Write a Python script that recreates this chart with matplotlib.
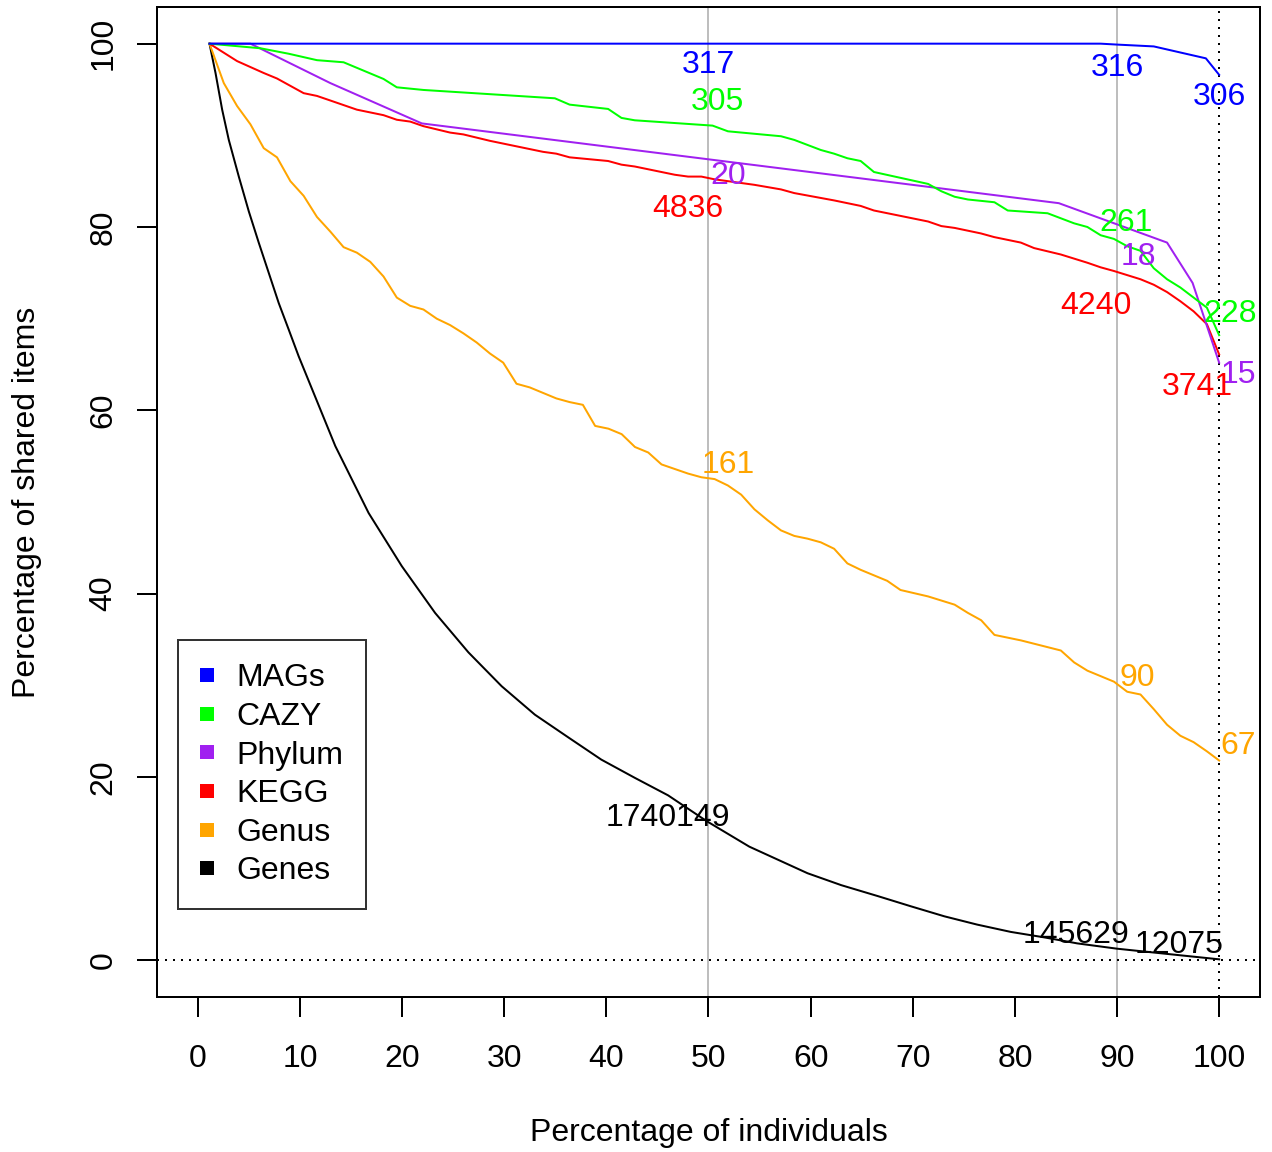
import matplotlib
matplotlib.use("Agg")
import matplotlib.pyplot as plt
from matplotlib.lines import Line2D

plt.rcParams['font.family'] = ['Liberation Sans', 'DejaVu Sans']

# curves (x = % of individuals, y = % of shared items)
mags_x = [1.14, 88.4, 90.0, 93.6, 98.7, 100]
mags_y = [100, 100, 99.9, 99.7, 98.4, 96.6]

cazy_x = [1.14, 6.12, 8.9, 11.66, 14.27, 18.18, 19.48, 22.09, 34.96, 36.4, 40.17,
          41.48, 42.78, 50.4, 51.9, 57.1, 58.4, 61.0, 62.3, 63.6, 64.9, 66.2, 71.5,
          72.8, 74.1, 75.4, 78.0, 79.3, 83.2, 85.8, 87.1, 88.4, 89.7, 91.0, 92.3,
          93.6, 94.9, 96.2, 97.5, 98.8, 100]
cazy_y = [100, 99.5, 98.9, 98.2, 97.97, 96.15, 95.24, 94.95, 94.04, 93.35, 92.88,
          91.9, 91.64, 91.06, 90.44, 89.9, 89.5, 88.4, 88.0, 87.5, 87.2, 86.0, 84.7,
          83.9, 83.3, 83.0, 82.7, 81.8, 81.5, 80.4, 80.0, 79.1, 78.7, 77.9, 77.4,
          75.5, 74.3, 73.4, 72.3, 71.2, 68.2]

phylum_x = [1.14, 5.15, 12.97, 21.93, 84.3, 94.9, 97.4, 100]
phylum_y = [100, 100, 95.7, 91.3, 82.6, 78.3, 73.9, 65.2]

kegg_x = [1.14, 3.84, 6.45, 7.75, 10.36, 11.66, 12.97, 15.57, 18.18, 19.48, 20.79,
          22.09, 24.7, 26.0, 28.6, 29.9, 33.8, 35.1, 36.4, 40.17, 41.48, 42.78, 46.7,
          48.0, 49.3, 50.6, 53.2, 54.5, 57.1, 58.4, 62.3, 63.6, 64.9, 66.2, 71.5,
          72.8, 74.1, 76.67, 77.97, 80.58, 81.88, 84.5, 87.1, 88.4, 89.7, 92.3, 93.6,
          94.9, 96.2, 97.5, 98.8, 100]
kegg_y = [100, 98.1, 96.8, 96.2, 94.6, 94.3, 93.8, 92.8, 92.2, 91.7, 91.5,
          91.0, 90.3, 90.1, 89.4, 89.1, 88.2, 88.0, 87.6, 87.2, 86.8, 86.6, 85.7,
          85.5, 85.5, 85.2, 84.8, 84.6, 84.1, 83.7, 82.9, 82.6, 82.3, 81.8, 80.6,
          80.1, 79.9, 79.3, 78.9, 78.3, 77.7, 77.0, 76.1, 75.6, 75.2, 74.3, 73.7,
          72.9, 71.9, 70.8, 69.4, 66.1]

genus_x = [1.14, 2.54, 3.84, 5.15, 6.45, 7.75, 9.06, 10.36, 11.66, 12.97, 14.27,
           15.57, 16.88, 18.18, 19.48, 20.79, 22.09, 23.39, 24.7, 26.0, 27.3, 28.6,
           29.9, 31.2, 32.5, 33.8, 35.1, 36.4, 37.7, 38.9, 40.2, 41.5, 42.8, 44.1,
           45.4, 46.7, 48.0, 49.3, 50.6, 51.9, 53.2, 54.5, 55.8, 57.1, 58.4, 59.7,
           61.0, 62.3, 63.6, 64.9, 66.2, 67.5, 68.8, 71.5, 74.1, 75.4, 76.7, 78.0,
           80.6, 84.5, 85.8, 87.1, 88.4, 89.7, 91.0, 92.3, 93.6, 94.9, 96.2, 97.5,
           98.8, 100]
genus_y = [100, 95.7, 93.2, 91.2, 88.6, 87.6, 85.0, 83.4, 81.1, 79.5, 77.8,
           77.2, 76.2, 74.6, 72.3, 71.4, 71.0, 70.0, 69.3, 68.4, 67.4, 66.2,
           65.2, 62.9, 62.5, 61.9, 61.3, 60.9, 60.6, 58.3, 58.0, 57.4, 56.0, 55.4,
           54.1, 53.6, 53.1, 52.7, 52.5, 51.8, 50.8, 49.2, 48.0, 46.9, 46.3, 46.0,
           45.6, 44.9, 43.3, 42.6, 42.0, 41.4, 40.4, 39.7, 38.8, 37.9, 37.1, 35.5,
           34.9, 33.8, 32.5, 31.6, 31.0, 30.4, 29.3, 29.0, 27.4, 25.7, 24.5, 23.8,
           22.8, 21.8]

genes_x = [1.14, 1.73, 2.38, 3.03, 4.01, 4.99, 5.96, 6.94, 7.92, 8.9, 9.87,
           13.46, 16.72, 19.97, 23.23, 26.49, 29.75, 33.0, 36.3, 39.5, 42.8, 46.04,
           49.8, 54.0, 59.7, 63.0, 66.6, 69.8, 73.1, 76.3, 79.6, 82.9, 86.1, 90.0,
           94.3, 100]
genes_y = [100, 96.8, 92.8, 89.5, 85.5, 81.7, 78.3, 75.0, 71.7, 68.8, 65.9,
           56.1, 48.8, 43.0, 37.9, 33.6, 29.9, 26.8, 24.3, 21.9, 19.9, 18.0,
           15.2, 12.4, 9.5, 8.2, 7.0, 5.9, 4.8, 3.9, 3.1, 2.5, 1.85, 1.27,
           0.77, 0.11]

# item counts written at 50%, 90% and 100% of individuals
mags_counts = ['317', '316', '306']
cazy_counts = ['305', '261', '228']
phylum_counts = ['20', '18', '15']
kegg_counts = ['4836', '4240', '3741']
genus_counts = ['161', '90', '67']
genes_counts = ['1740149', '145629', '12075']

names = ['MAGs', 'CAZY', 'Phylum', 'KEGG', 'Genus', 'Genes']
colors = ['#0000FF', '#00FF00', '#A020F0', '#FF0000', '#FFA500', '#000000']

series = [(mags_x, mags_y, mags_counts),
          (cazy_x, cazy_y, cazy_counts),
          (phylum_x, phylum_y, phylum_counts),
          (kegg_x, kegg_y, kegg_counts),
          (genus_x, genus_y, genus_counts),
          (genes_x, genes_y, genes_counts)]

# where each count label sits (text centre, data units)
label_pos = [[(50.0, 98.0), (90.0, 97.7), (100.0, 94.5)],
             [(50.9, 94.0), (90.9, 80.8), (101.1, 70.9)],
             [(51.9, 85.9), (92.1, 77.1), (101.9, 64.2)],
             [(48.0, 82.3), (87.9, 71.8), (97.9, 62.9)],
             [(51.9, 54.4), (92.0, 31.2), (101.9, 23.7)],
             [(46.0, 15.9), (86.0, 3.1), (96.1, 2.0)]]

FS = 23
LW = 1.44

fig = plt.figure(figsize=(12.72, 11.52), dpi=100)
ax = fig.add_axes([157 / 1272, 1 - 997 / 1152, 1103 / 1272, 990 / 1152])
ax.set_xlim(-4, 104)
ax.set_ylim(-4, 104)

ax.axvline(50, color='#BEBEBE', lw=LW, zorder=1)
ax.axvline(90, color='#BEBEBE', lw=LW, zorder=1)
ax.axvline(100, color='black', lw=LW, ls=(0, (1, 3)), zorder=1)
ax.axhline(0, color='black', lw=LW, ls=(0, (1, 3)), zorder=1)

for (x, y, counts), c in reversed(list(zip(series, colors))):
    ax.plot(x, y, color=c, lw=LW, zorder=2)

for (x, y, counts), c, pos in zip(series, colors, label_pos):
    for txt, (px, py) in zip(counts, pos):
        ax.annotate(txt, (px, py), xytext=(0, -8.2), textcoords='offset points',
                    ha='center', va='baseline', fontsize=FS, color=c, zorder=3)

ax.set_xticks(range(0, 101, 10))
ax.set_yticks(range(0, 101, 20))
ax.tick_params(direction='out', length=14.4, width=LW, labelsize=FS)
ax.tick_params(axis='x', pad=19.2)
ax.tick_params(axis='y', pad=13.4, labelrotation=90)
for lab in ax.get_yticklabels():
    lab.set_va('center')
for s in ax.spines.values():
    s.set_linewidth(LW)

fig.text(708.5 / 1272, 1 - 1133 / 1152, 'Percentage of individuals',
         ha='center', va='center', fontsize=FS)
fig.text(27 / 1272, 1 - 502 / 1152, 'Percentage of shared items',
         ha='center', va='center', rotation=90, fontsize=FS)

handles = [Line2D([], [], ls='none', marker='s', markersize=10.4,
                  markerfacecolor=c, markeredgewidth=0) for c in colors]
leg = ax.legend(handles, names, loc='upper left',
                bbox_to_anchor=(20.6 / 1103, (997 - 640.3) / 990),
                borderaxespad=0, fontsize=FS, frameon=True, fancybox=False,
                edgecolor='black', borderpad=0.72, labelspacing=0.27,
                handlelength=0.4, handletextpad=0.71)
leg.get_frame().set_linewidth(LW)

fig.savefig('out.png', dpi=100)
